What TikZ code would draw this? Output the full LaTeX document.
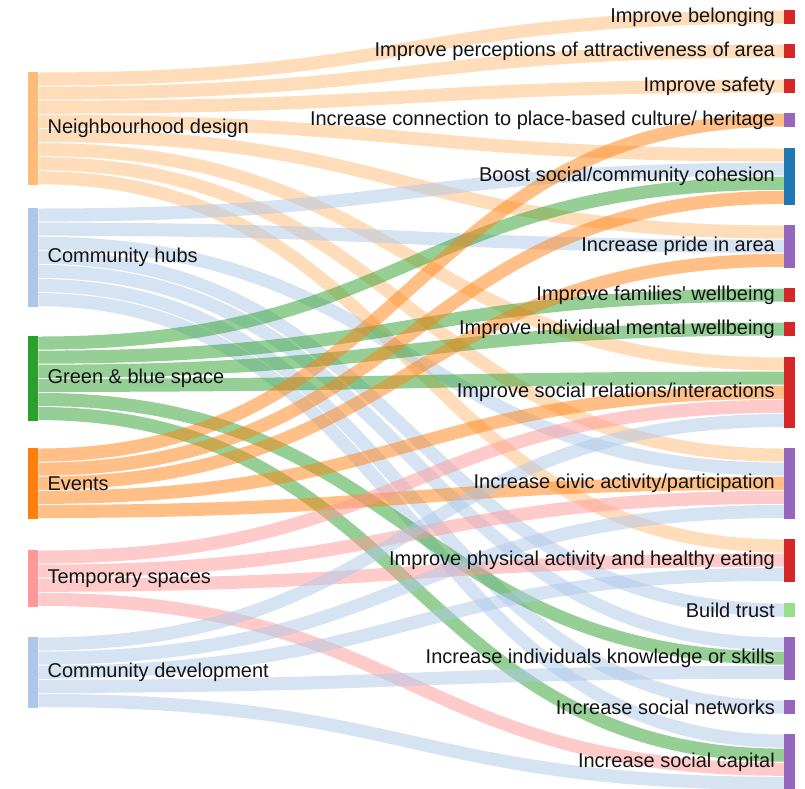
\documentclass[tikz,border=0pt]{standalone}
\usepackage{fontspec}
\setmainfont{Liberation Sans}[Ligatures=TeXOff]
\usepackage{tikz}
\usetikzlibrary{calc,backgrounds}

\definecolor{ndcol}{HTML}{FFBB78}
\definecolor{hubcol}{HTML}{AEC7E8}
\definecolor{greencol}{HTML}{2CA02C}
\definecolor{eventcol}{HTML}{FF7F0E}
\definecolor{tempcol}{HTML}{FF9896}
\definecolor{redcol}{HTML}{D62728}
\definecolor{purpcol}{HTML}{9467BD}
\definecolor{bluecol}{HTML}{1F77B4}
\definecolor{trustcol}{HTML}{98DF8A}

\newcommand{\un}{14.1}
% band from slot #2 of #1 to slot #4 of #3
\newcommand{\flow}[5]{%
\draw[flowline, #5] ($(#1.north east)+(0,{(#2+0.5)*\un})$) .. controls ($(#1.north east)+(373,{(#2+0.5)*\un})$) and ($(#3.north west)+(-373,{(#4+0.5)*\un})$) .. ($(#3.north west)+(0,{(#4+0.5)*\un})$);}

\tikzset{
  txt/.style={font=\fontsize{20}{23}\selectfont, text=black!92, inner sep=0pt},
  lbar/.style={rectangle, draw=none, inner sep=0pt, minimum width=10, anchor=north west},
  rbar/.style={rectangle, draw=none, inner sep=0pt, minimum width=11, anchor=north west},
  flowline/.style={line width=13.1, opacity=0.5},
  every label/.style={txt},
  label distance=9
}

\begin{document}
\begin{tikzpicture}[x=1pt,y=-1pt]
\useasboundingbox (0,0) rectangle (805,788);
% sources
\node[lbar, fill=ndcol, minimum height={8*\un}, label=right:{Neighbourhood design}] (nd) at (28,72){};
\node[lbar, fill=hubcol, minimum height={7*\un}, label=right:{Community hubs}] (hubs) at (28,208){};
\node[lbar, fill=greencol, minimum height={6*\un}, label=right:{Green \& blue space}] (green) at (28,336){};
\node[lbar, fill=eventcol, minimum height={5*\un}, label=right:{Events}] (events) at (28,448){};
\node[lbar, fill=tempcol, minimum height={4*\un}, label=right:{Temporary spaces}] (temp) at (28,550){};
\node[lbar, fill=hubcol, minimum height={5*\un}, label=right:{Community development}] (cdev) at (28,637){};
% outcomes
\node[rbar, fill=redcol, minimum height={1*\un}, label=left:{Improve belonging}] (belong) at (784,10){};
\node[rbar, fill=redcol, minimum height={1*\un}, label=left:{Improve perceptions of attractiveness of area}] (attract) at (784,44){};
\node[rbar, fill=redcol, minimum height={1*\un}, label=left:{Improve safety}] (safety) at (784,79){};
\node[rbar, fill=purpcol, minimum height={1*\un}, label=left:{Increase connection to place-based culture/ heritage}] (heritage) at (784,113){};
\node[rbar, fill=bluecol, minimum height={4*\un}, label=left:{Boost social/community cohesion}] (cohesion) at (784,148){};
\node[rbar, fill=purpcol, minimum height={3*\un}, label=left:{Increase pride in area}] (pride) at (784,225){};
\node[rbar, fill=redcol, minimum height={1*\un}, label=left:{Improve families' wellbeing}] (families) at (784,288){};
\node[rbar, fill=redcol, minimum height={1*\un}, label=left:{Improve individual mental wellbeing}] (mental) at (784,322){};
\node[rbar, fill=redcol, minimum height={5*\un}, label=left:{Improve social relations/interactions}] (relations) at (784,357){};
\node[rbar, fill=purpcol, minimum height={5*\un}, label=left:{Increase civic activity/participation}] (civic) at (784,448){};
\node[rbar, fill=redcol, minimum height={3*\un}, label=left:{Improve physical activity and healthy eating}] (physical) at (784,539){};
\node[rbar, fill=trustcol, minimum height={1*\un}, label=left:{Build trust}] (trust) at (784,603){};
\node[rbar, fill=purpcol, minimum height={3*\un}, label=left:{Increase individuals knowledge or skills}] (skills) at (784,637){};
\node[rbar, fill=purpcol, minimum height={1*\un}, label=left:{Increase social networks}] (networks) at (784,700){};
\node[rbar, fill=purpcol, minimum height={4*\un}, label=left:{Increase social capital}] (capital) at (784,734){};
\begin{scope}[on background layer]
\flow{nd}{0}{belong}{0}{ndcol}
\flow{nd}{1}{attract}{0}{ndcol}
\flow{nd}{2}{safety}{0}{ndcol}
\flow{nd}{3}{cohesion}{0}{ndcol}
\flow{nd}{4}{pride}{0}{ndcol}
\flow{nd}{5}{relations}{0}{ndcol}
\flow{nd}{6}{civic}{0}{ndcol}
\flow{nd}{7}{physical}{0}{ndcol}
\flow{hubs}{0}{cohesion}{1}{hubcol}
\flow{hubs}{1}{pride}{1}{hubcol}
\flow{hubs}{2}{civic}{1}{hubcol}
\flow{hubs}{3}{trust}{0}{hubcol}
\flow{hubs}{4}{skills}{0}{hubcol}
\flow{hubs}{5}{networks}{0}{hubcol}
\flow{hubs}{6}{capital}{0}{hubcol}
\flow{green}{0}{cohesion}{2}{greencol}
\flow{green}{1}{families}{0}{greencol}
\flow{green}{2}{mental}{0}{greencol}
\flow{green}{3}{relations}{1}{greencol}
\flow{green}{4}{skills}{1}{greencol}
\flow{green}{5}{capital}{1}{greencol}
\flow{events}{0}{heritage}{0}{eventcol}
\flow{events}{1}{cohesion}{3}{eventcol}
\flow{events}{2}{pride}{2}{eventcol}
\flow{events}{3}{relations}{2}{eventcol}
\flow{events}{4}{civic}{2}{eventcol}
\flow{temp}{0}{relations}{3}{tempcol}
\flow{temp}{1}{civic}{3}{tempcol}
\flow{temp}{2}{physical}{1}{tempcol}
\flow{temp}{3}{capital}{2}{tempcol}
\flow{cdev}{0}{relations}{4}{hubcol}
\flow{cdev}{1}{civic}{4}{hubcol}
\flow{cdev}{2}{physical}{2}{hubcol}
\flow{cdev}{3}{skills}{2}{hubcol}
\flow{cdev}{4}{capital}{3}{hubcol}
\end{scope}
\end{tikzpicture}
\end{document}
